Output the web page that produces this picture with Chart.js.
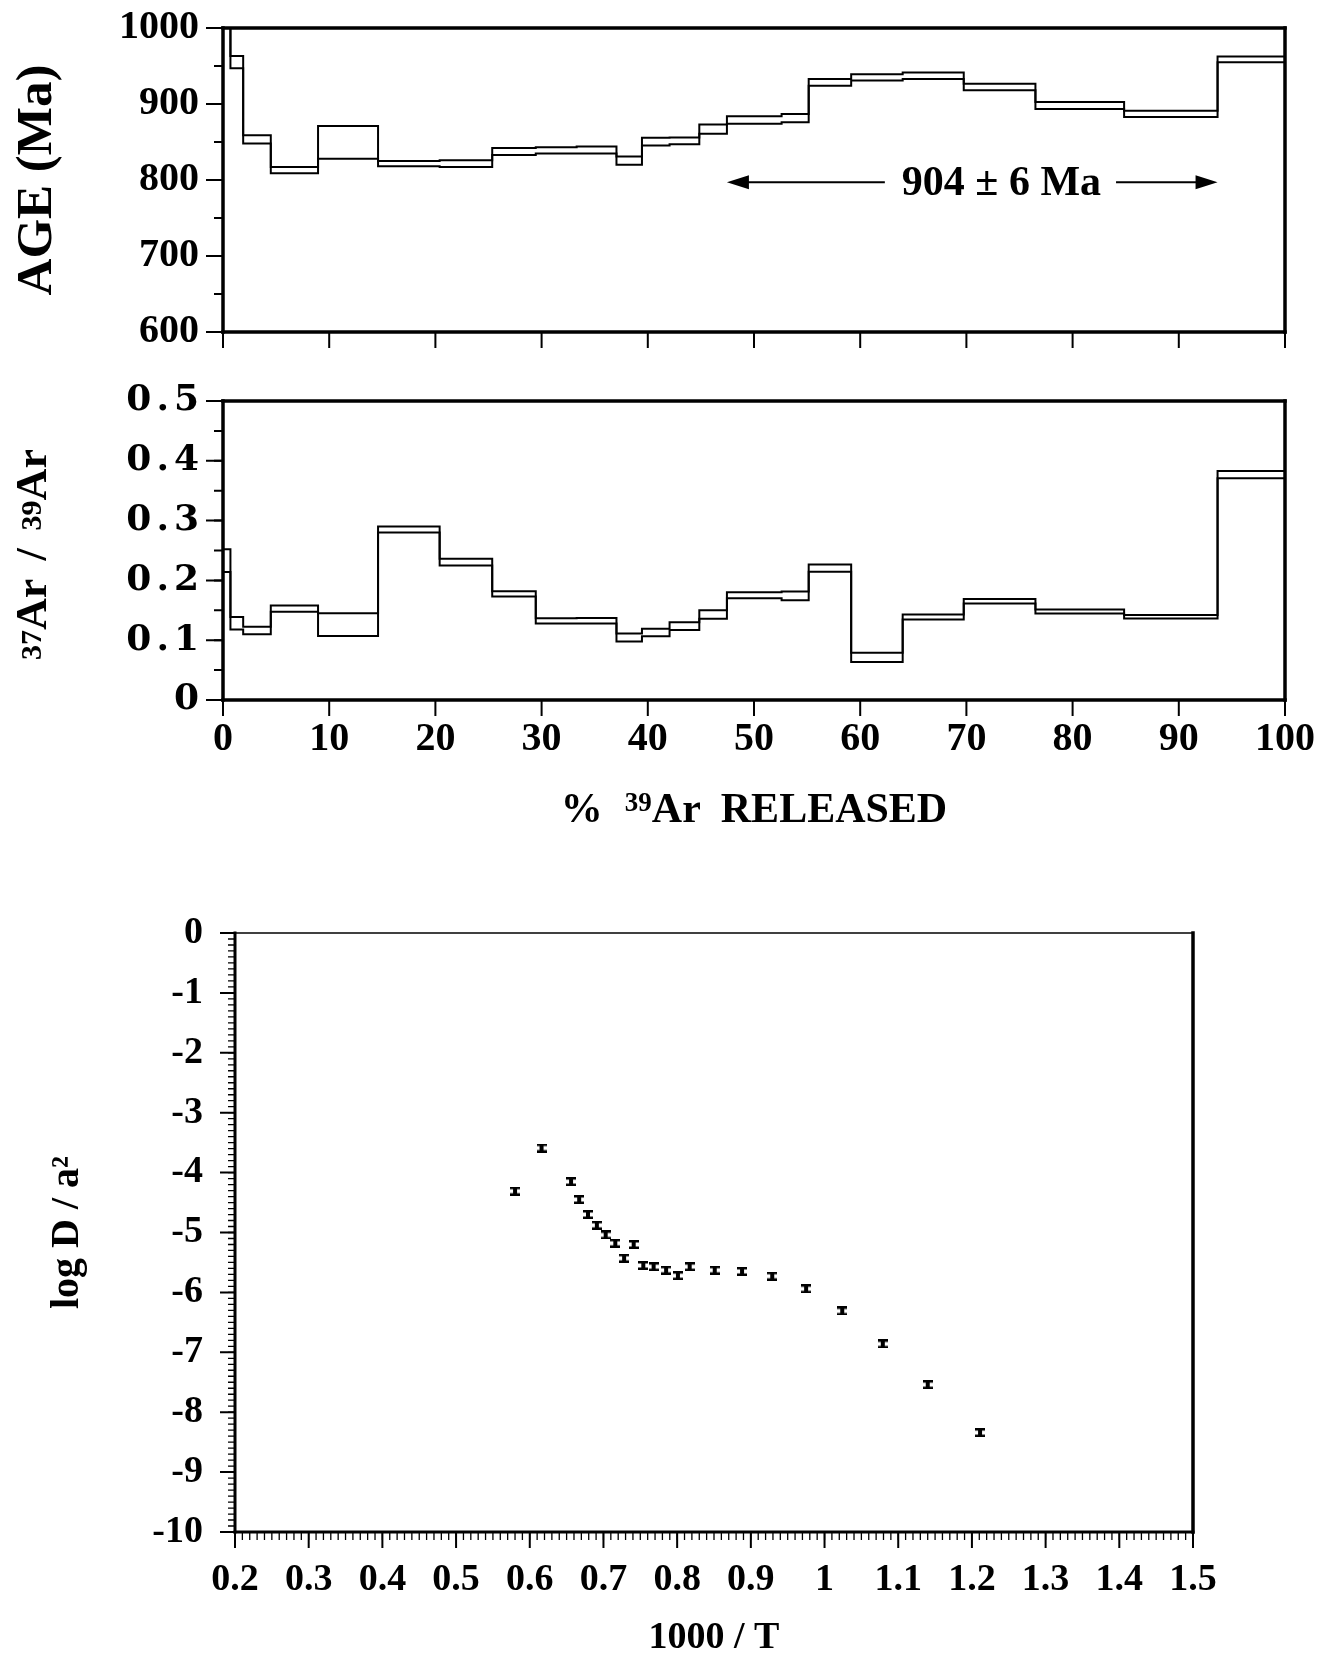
<!DOCTYPE html>
<html>
<head>
<meta charset="utf-8">
<script src="https://cdn.jsdelivr.net/npm/chart.js@4.4.1/dist/chart.umd.min.js"></script>
<style>
  html, body { margin: 0; padding: 0; background: #fff; }
  body { width: 1321px; height: 1657px; position: relative; overflow: hidden; }
  canvas { position: absolute; left: 0; }
  #ageChart { top: 0; }
  #caChart { top: 370px; }
  #arrChart { top: 850px; }
</style>
</head>
<body>
<canvas id="ageChart" width="1321" height="370"></canvas>
<canvas id="caChart" width="1321" height="480"></canvas>
<canvas id="arrChart" width="1321" height="807"></canvas>
<script>
// cumulative % 39Ar released at the start of each heating step (+ end)
const releaseSteps = [0, 0.7, 1.9, 4.5, 8.95, 14.6, 20.4, 25.35, 29.45, 33.3, 37.05, 39.45,
  42.05, 44.85, 47.45, 52.6, 55.15, 59.15, 64.0, 69.75, 76.5, 84.85, 93.65, 100]

// apparent age, upper / lower edge of each step box (Ma)
const ageHigh = [1030, 963, 859, 817, 871, 825, 826, 842, 843, 844, 831, 855.5,
  856, 873, 884, 887, 933, 939, 941.5, 926.5, 902.5, 891, 962.5]
const ageLow = [1010, 947, 848, 809, 828, 818, 817, 833, 835, 835, 820, 845.5,
  847, 861, 874, 876, 924, 931, 933, 918, 893.5, 883, 955]

// 37Ar / 39Ar, upper / lower edge of each step box
const caHigh = [0.252, 0.139, 0.1225, 0.158, 0.145, 0.290, 0.236, 0.182, 0.1365, 0.137, 0.111, 0.119,
  0.130, 0.150, 0.180, 0.1815, 0.2266, 0.079, 0.143, 0.169, 0.1514, 0.142, 0.383]
const caLow = [0.214, 0.118, 0.110, 0.1475, 0.107, 0.280, 0.225, 0.173, 0.128, 0.128, 0.098, 0.1065,
  0.117, 0.136, 0.170, 0.167, 0.2144, 0.0635, 0.1347, 0.1615, 0.1448, 0.1364, 0.371]

// plateau annotation
const plateauLabel = '904 ± 6 Ma'
const plateauFirst = 14   // index of first plateau step
const plateauLast = 21    // index of last plateau step
const plateauArrowAge = 797
const plateauLabelAt = 73.3

// Arrhenius plot
const invT = [0.580, 0.616, 0.656, 0.667, 0.679, 0.691, 0.703, 0.716, 0.728, 0.741, 0.754, 0.768,
  0.785, 0.801, 0.817, 0.851, 0.888, 0.929, 0.975, 1.024, 1.079, 1.140, 1.211]
const logD = [-4.31, -3.59, -4.15, -4.45, -4.70, -4.88, -5.04, -5.18, -5.43, -5.20, -5.55, -5.57,
  -5.63, -5.72, -5.57, -5.63, -5.65, -5.73, -5.94, -6.31, -6.86, -7.54, -8.34]

const serif = '"Liberation Serif", "Times New Roman", serif'
const fontB = size => `bold ${size}px ${serif}`

const stepPoints = vals => releaseSteps.map((x, i) => ({ x, y: vals[Math.min(i, vals.length - 1)] }))

const stepSet = vals => ({
  data: stepPoints(vals),
  stepped: true,
  borderColor: '#000',
  borderWidth: 2,
  pointRadius: 0,
  fill: false,
})

const fmt = v => String(+v.toFixed(2))

// keep the axes from reserving room for half-labels at the ends
const fixY = w => s => { s.width = w; s.paddingTop = 0; s.paddingBottom = 0 }
const fixX = h => s => { s.height = h; s.paddingLeft = 0; s.paddingRight = 0 }

// frame + outward tick marks (major / minor) drawn along the scales
const frameTicks = {
  id: 'frameTicks',
  afterDraw(chart, args, o) {
    const { ctx, chartArea: a, scales } = chart
    ctx.save()
    ctx.strokeStyle = '#000'
    const mark = (scale, step, len, width) => {
      if (!step) return
      ctx.lineWidth = width
      ctx.beginPath()
      const n = Math.round((scale.max - scale.min) / step)
      for (let i = 0; i <= n; i++) {
        const p = scale.getPixelForValue(scale.min + i * step)
        if (scale.axis === 'x') { ctx.moveTo(p, a.bottom); ctx.lineTo(p, a.bottom + len) }
        else { ctx.moveTo(a.left, p); ctx.lineTo(a.left - len, p) }
      }
      ctx.stroke()
    }
    mark(scales.x, o.xMinor, o.xMinorLen, o.minorWidth)
    mark(scales.x, o.xMajor, o.xMajorLen, o.majorWidth)
    mark(scales.y, o.yMinor, o.yMinorLen, o.minorWidth)
    mark(scales.y, o.yMajor, o.yMajorLen, o.majorWidth)
    const [t, r, b, l] = o.frame
    ctx.lineCap = 'square'
    const line = (w, x0, y0, x1, y1) => { ctx.lineWidth = w; ctx.beginPath(); ctx.moveTo(x0, y0); ctx.lineTo(x1, y1); ctx.stroke() }
    line(t, a.left, a.top, a.right, a.top)
    line(r, a.right, a.top, a.right, a.bottom)
    line(b, a.left, a.bottom, a.right, a.bottom)
    line(l, a.left, a.top, a.left, a.bottom)
    ctx.restore()
  }
}

// wide-set y tick labels of the ratio panel (labels layer is drawn after the datasets)
const spacedYLabels = {
  id: 'spacedYLabels',
  afterDatasetsDraw(chart) { chart.ctx.letterSpacing = '5px' },
  afterDraw(chart) { chart.ctx.letterSpacing = '0px' },
}

// text made of pieces (for the small 37 / 39 mass numbers)
function richText(ctx, parts, cx, cy, angle, base) {
  ctx.save()
  ctx.translate(cx, cy)
  ctx.rotate(angle)
  ctx.fillStyle = '#000'
  ctx.textBaseline = 'alphabetic'
  let w = 0
  parts.forEach(p => { ctx.font = fontB(p.size); p.w = ctx.measureText(p.t).width; w += p.w + (p.gap || 0) })
  let x = -w / 2
  parts.forEach(p => {
    ctx.font = fontB(p.size)
    ctx.fillText(p.t, x, base - (p.rise || 0))
    x += p.w + (p.gap || 0)
  })
  ctx.restore()
}

const plateauArrow = {
  id: 'plateauArrow',
  afterDraw(chart) {
    const { ctx, scales: { x, y } } = chart
    const yp = y.getPixelForValue(plateauArrowAge)
    const x0 = x.getPixelForValue(releaseSteps[plateauFirst])
    const x1 = x.getPixelForValue(releaseSteps[plateauLast + 1])
    const xt = x.getPixelForValue(plateauLabelAt)
    ctx.save()
    ctx.fillStyle = '#000'
    ctx.strokeStyle = '#000'
    ctx.font = fontB(42)
    ctx.textAlign = 'center'
    ctx.textBaseline = 'middle'
    const tw = ctx.measureText(plateauLabel).width
    ctx.fillText(plateauLabel, xt, yp + 2)
    ctx.lineWidth = 2
    ctx.beginPath()
    ctx.moveTo(x0 + 18, yp); ctx.lineTo(xt - tw / 2 - 17, yp)
    ctx.moveTo(xt + tw / 2 + 15, yp); ctx.lineTo(x1 - 18, yp)
    ctx.stroke()
    ctx.beginPath()
    ctx.moveTo(x0, yp); ctx.lineTo(x0 + 22, yp - 7); ctx.lineTo(x0 + 22, yp + 7); ctx.closePath()
    ctx.moveTo(x1, yp); ctx.lineTo(x1 - 22, yp - 7); ctx.lineTo(x1 - 22, yp + 7); ctx.closePath()
    ctx.fill()
    ctx.restore()
  }
}

const caTitles = {
  id: 'caTitles',
  afterDraw(chart) {
    const { ctx, chartArea: a } = chart
    richText(ctx, [
      { t: '37', size: 30, rise: 5 },
      { t: 'Ar', size: 44, gap: 18 },
      { t: '/', size: 44, gap: 18 },
      { t: '39', size: 30, rise: 5 },
      { t: 'Ar', size: 44 },
    ], 32, (a.top + a.bottom) / 2 + 4, -Math.PI / 2, 14)
    richText(ctx, [
      { t: '%', size: 42, gap: 22 },
      { t: '39', size: 27, rise: 11 },
      { t: 'Ar', size: 42, gap: 20 },
      { t: 'RELEASED', size: 42 },
    ], (a.left + a.right) / 2, 438, 0, 14)
  }
}

const tickFont = { family: serif, weight: 'bold', size: 40 }

function stepChart(id, high, low, yMin, yMax, yStep, opts) {
  return new Chart(document.getElementById(id), {
    type: 'line',
    data: { datasets: [stepSet(high), stepSet(low)] },
    plugins: opts.plugins,
    options: {
      responsive: false,
      animation: false,
      devicePixelRatio: 1,
      layout: { padding: { top: opts.top, right: 36, left: 0, bottom: 0 } },
      plugins: {
        legend: { display: false },
        tooltip: { enabled: false },
        frameTicks: {
          xMajor: 10, xMajorLen: 16, yMajor: yStep, yMajorLen: 17, yMinor: yStep / 2, yMinorLen: 9,
          majorWidth: 2, minorWidth: 2, frame: [3.5, 3.5, 3.5, 3.5],
        },
      },
      scales: {
        x: {
          type: 'linear', min: 0, max: 100,
          grid: { display: false, drawTicks: false },
          border: { display: false },
          ticks: { display: opts.xLabels, stepSize: 10, autoSkip: false, maxRotation: 0, padding: 16, color: '#000', font: tickFont },
          afterFit: fixX(opts.xHeight),
        },
        y: {
          min: yMin, max: yMax,
          grid: { display: false, drawTicks: false },
          border: { display: false },
          ticks: Object.assign({ stepSize: yStep, padding: 24, color: '#000', font: tickFont, callback: fmt }, opts.yTicks),
          title: opts.yTitle,
          afterFit: fixY(223),
        },
      },
    },
  })
}

stepChart('ageChart', ageHigh, ageLow, 600, 1000, 100, {
  top: 28, xHeight: 38, xLabels: false,
  plugins: [frameTicks, plateauArrow],
  yTitle: { display: true, text: 'AGE (Ma)', color: '#000', font: { family: serif, weight: 'bold', size: 51, lineHeight: 1 }, padding: { top: 12, bottom: 0 } },
})

stepChart('caChart', caHigh, caLow, 0, 0.5, 0.1, {
  top: 31, xHeight: 150, xLabels: true,
  plugins: [frameTicks, spacedYLabels, caTitles],
  yTicks: { z: 1, padding: 19, font: { family: '"DejaVu Serif", serif', weight: 'bold', size: 36 } },
  yTitle: { display: false },
})

// error-bar glyph used as the point marker
const bar = document.createElement('canvas')
bar.width = 10; bar.height = 9
const bctx = bar.getContext('2d')
bctx.fillStyle = '#000'
bctx.fillRect(0, 0, 10, 2.5)
bctx.fillRect(0, 6.5, 10, 2.5)
bctx.fillRect(3, 0, 4, 9)

new Chart(document.getElementById('arrChart'), {
  type: 'scatter',
  data: {
    datasets: [{
      data: invT.map((x, i) => ({ x, y: logD[i] })),
      pointStyle: bar,
      pointRadius: 5,
    }],
  },
  plugins: [frameTicks],
  options: {
    responsive: false,
    animation: false,
    devicePixelRatio: 1,
    layout: { padding: { top: 83, right: 128, left: 0, bottom: 0 } },
    plugins: {
      legend: { display: false },
      tooltip: { enabled: false },
      frameTicks: {
        xMajor: 0.1, xMajorLen: 16, xMinor: 0.01, xMinorLen: 8,
        yMajor: 1, yMajorLen: 15, yMinor: 0.1, yMinorLen: 7,
        majorWidth: 2, minorWidth: 1.3, frame: [1.5, 3.5, 3, 3],
      },
    },
    scales: {
      x: {
        type: 'linear', min: 0.2, max: 1.5,
        grid: { display: false, drawTicks: false },
        border: { display: false },
        ticks: { stepSize: 0.1, autoSkip: false, maxRotation: 0, padding: 25, color: '#000', font: { family: serif, weight: 'bold', size: 38 }, callback: fmt },
        title: { display: true, text: '1000 / T', color: '#000', font: { family: serif, weight: 'bold', size: 38, lineHeight: 1 }, padding: { top: 0, bottom: 0 } },
        afterFit: fixX(125),
      },
      y: {
        min: -10, max: 0,
        grid: { display: false, drawTicks: false },
        border: { display: false },
        ticks: { stepSize: 1, padding: 32, color: '#000', font: { family: serif, weight: 'bold', size: 38 }, callback: fmt },
        title: { display: true, text: 'log D / a²', color: '#000', font: { family: serif, weight: 'bold', size: 40, lineHeight: 1 }, padding: { top: 48, bottom: 0 } },
        afterFit: fixY(235),
      },
    },
  },
})
</script>
</body>
</html>
